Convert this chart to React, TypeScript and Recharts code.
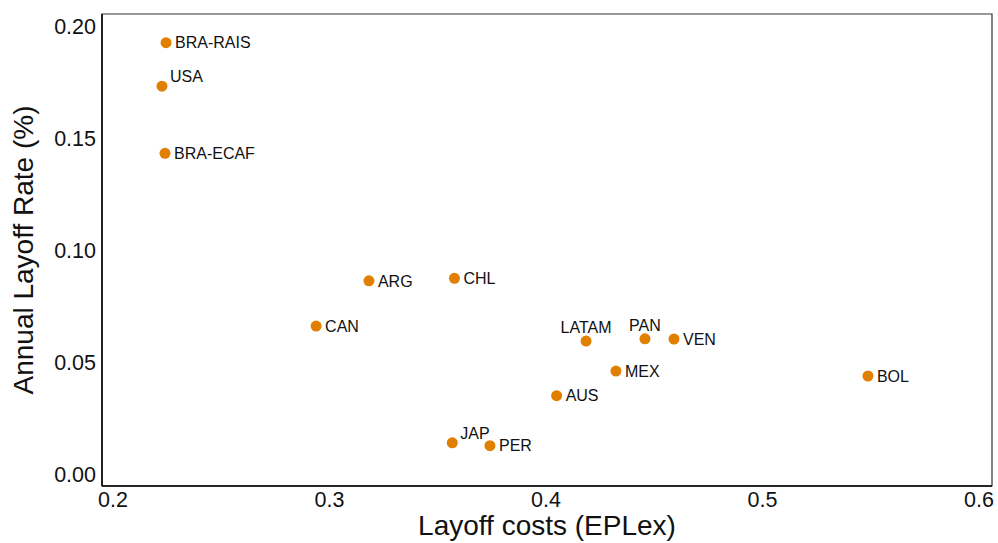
import React from 'react';
import { ScatterChart, Scatter, XAxis, YAxis, ReferenceArea, Label } from 'recharts';

// Country codes with their layoff cost index (EPLex) and annual layoff rate
const countries = ['BRA-RAIS', 'USA', 'BRA-ECAF', 'ARG', 'CHL', 'CAN', 'LATAM', 'PAN', 'VEN', 'MEX', 'AUS', 'JAP', 'PER', 'BOL'];
const layoffCosts = [0.2245, 0.2226, 0.224, 0.3182, 0.3577, 0.2938, 0.4185, 0.4457, 0.4591, 0.4323, 0.4049, 0.3567, 0.3741, 0.5487];
const layoffRates = [0.1928, 0.1734, 0.1434, 0.0865, 0.0876, 0.0663, 0.0596, 0.0606, 0.0605, 0.0462, 0.0352, 0.0142, 0.0129, 0.044];

const xTicks = [0.2, 0.3, 0.4, 0.5, 0.6];
const yTicks = [0, 0.05, 0.1, 0.15, 0.2];

const X_DOMAIN: [number, number] = [0.1949, 0.606];
const Y_DOMAIN: [number, number] = [-0.0051, 0.2056];

// Where each label sits relative to its point (default: right of the point)
const labelPlacement: Record<string, 'right' | 'top' | 'topRight'> = {
  USA: 'topRight',
  JAP: 'topRight',
  LATAM: 'top',
  PAN: 'top',
};

const FONT = '"Liberation Sans", Arial, Helvetica, sans-serif';
const POINT_COLOR = '#E07F00';
const TEXT_COLOR = '#111';
const TICK_FS = 21.5;

const data = countries.map((name, i) => ({ name, x: layoffCosts[i], y: layoffRates[i] }));

const PointWithLabel = (props: any) => {
  const { cx, cy, payload } = props;
  if (cx == null || cy == null) return null;
  const place = labelPlacement[payload.name] || 'right';
  const fs = 16;
  const capHalf = 0.358 * fs;
  let tx = cx + 9;
  let ty = cy + capHalf;
  let anchor: 'start' | 'middle' = 'start';
  if (place === 'topRight') {
    tx = cx + 8;
    ty = cy - 9.5 + capHalf;
  } else if (place === 'top') {
    tx = cx;
    ty = cy - 14 + capHalf;
    anchor = 'middle';
  }
  return (
    <g>
      <circle cx={cx} cy={cy} r={5.5} fill={POINT_COLOR} />
      <text x={tx} y={ty} textAnchor={anchor} fontSize={fs} fontFamily={FONT} fill={TEXT_COLOR}>
        {payload.name}
      </text>
    </g>
  );
};

// Bottom axis tick: digits start ~6px below the axis line
const XTick = (props: any) => {
  const { x, payload } = props;
  return (
    <text
      x={x}
      y={486 + 6 + 0.716 * TICK_FS}
      textAnchor="middle"
      fontSize={TICK_FS}
      fontFamily={FONT}
      fill={TEXT_COLOR}
    >
      {String(payload.value)}
    </text>
  );
};

// Left axis tick: right-aligned, vertically centred on the tick value
const YTick = (props: any) => {
  const { y, payload } = props;
  return (
    <text
      x={96}
      y={y + 0.358 * TICK_FS}
      textAnchor="end"
      fontSize={TICK_FS}
      fontFamily={FONT}
      fill={TEXT_COLOR}
    >
      {Number(payload.value).toFixed(2)}
    </text>
  );
};

const XTitle = (props: any) => {
  const { viewBox } = props;
  return (
    <text
      x={viewBox.x + viewBox.width / 2}
      y={535}
      textAnchor="middle"
      fontSize={28}
      fontFamily={FONT}
      fill={TEXT_COLOR}
    >
      Layoff costs (EPLex)
    </text>
  );
};

const YTitle = (props: any) => {
  const { viewBox } = props;
  const cy = viewBox.y + viewBox.height / 2;
  const bx = 33;
  return (
    <text
      x={bx}
      y={cy}
      transform={`rotate(-90, ${bx}, ${cy})`}
      textAnchor="middle"
      fontSize={28}
      fontFamily={FONT}
      fill={TEXT_COLOR}
    >
      Annual Layoff Rate (%)
    </text>
  );
};

export default function App() {
  return (
    <div style={{ position: 'absolute', left: 0, top: 0, background: '#fff' }}>
      <ScatterChart
        width={998}
        height={543}
        margin={{ top: 14, right: 6, bottom: 0, left: 0 }}
        style={{ fontFamily: FONT }}
      >
        <XAxis
          type="number"
          dataKey="x"
          domain={X_DOMAIN}
          allowDataOverflow
          ticks={xTicks}
          tickLine={false}
          tickSize={0}
          tickMargin={6}
          height={57}
          axisLine={{ stroke: '#000', strokeWidth: 1.5 }}
          tick={<XTick />}
          interval={0}
        >
          <Label content={<XTitle />} />
        </XAxis>
        <YAxis
          type="number"
          dataKey="y"
          domain={Y_DOMAIN}
          allowDataOverflow
          ticks={yTicks}
          tickLine={false}
          tickSize={0}
          tickMargin={5}
          width={102}
          axisLine={{ stroke: '#000', strokeWidth: 1.5 }}
          tick={<YTick />}
          interval={0}
        >
          <Label content={<YTitle />} />
        </YAxis>
        <ReferenceArea
          x1={X_DOMAIN[0]}
          x2={X_DOMAIN[1]}
          y1={Y_DOMAIN[0]}
          y2={Y_DOMAIN[1]}
          fill="none"
          stroke="#333"
          strokeWidth={1.2}
          ifOverflow="visible"
        />
        <Scatter data={data} shape={<PointWithLabel />} isAnimationActive={false} />
      </ScatterChart>
    </div>
  );
}
